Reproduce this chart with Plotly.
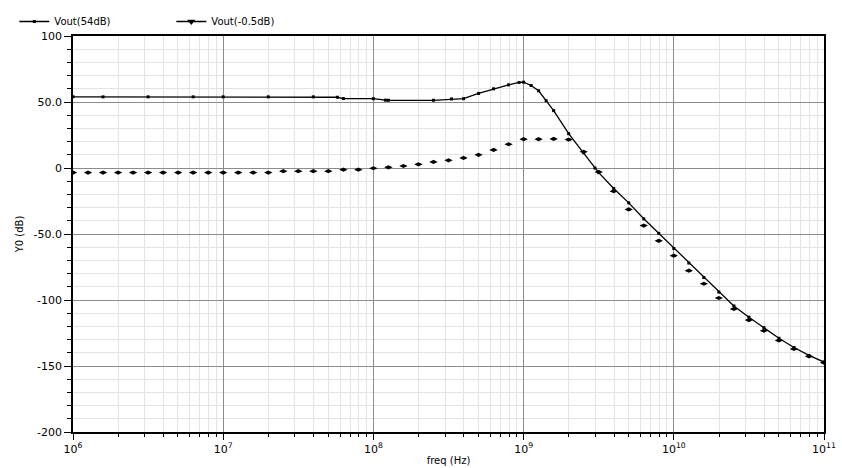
import plotly.graph_objects as go

# ---- data (log10 of frequency in Hz, value in dB) ----
s1_logf = [6.0, 6.2, 6.5, 6.8, 7.0, 7.3, 7.6, 7.76, 7.8, 8.0, 8.08, 8.1, 8.4, 8.52, 8.6,
           8.7, 8.8, 8.9, 8.97, 9.0, 9.05, 9.1, 9.15, 9.2, 9.3, 9.4, 9.475, 9.5, 9.6,
           9.7, 9.8, 9.9, 10.0, 10.1, 10.2, 10.3, 10.4, 10.5, 10.6, 10.7, 10.8, 10.9, 11.0]
s1_vals = [53.9, 53.9, 53.9, 53.9, 53.9, 53.9, 53.9, 53.6, 52.6, 52.5, 51.4, 51.3, 51.3, 52.3, 52.5,
           56.5, 60.0, 63.0, 64.8, 65.0, 62.5, 58.5, 51.0, 43.5, 26.0, 11.5, 0.0, -3.5, -15.5,
           -26.4, -38.5, -49.5, -61.0, -72.0, -83.0, -94.0, -104.5, -113.0, -121.0, -129.0, -136.0, -142.0, -147.0]

s2_logf = [6.0, 6.1, 6.2, 6.3, 6.4, 6.5, 6.6, 6.7, 6.8, 6.9, 7.0, 7.1, 7.2, 7.3, 7.4, 7.5, 7.6,
           7.7, 7.8, 7.9, 8.0, 8.1, 8.2, 8.3, 8.4, 8.5, 8.6, 8.7, 8.8, 8.9, 9.0, 9.1, 9.2, 9.3,
           9.4, 9.5, 9.6, 9.7, 9.8, 9.9, 10.0, 10.1, 10.2, 10.3, 10.4, 10.5, 10.6, 10.7, 10.8,
           10.9, 11.0]
s2_vals = [-3.5, -3.5, -3.5, -3.5, -3.5, -3.5, -3.5, -3.5, -3.5, -3.5, -3.5, -3.5, -3.5, -3.5,
           -2.4, -2.4, -2.4, -2.4, -1.3, -1.3, -0.2, 0.5, 1.5, 2.8, 4.6, 5.8, 7.6, 10.0, 13.7,
           18.0, 21.8, 21.8, 22.0, 21.5, 12.3, -3.0, -17.6, -31.4, -43.6, -55.2, -66.4, -77.8,
           -87.7, -98.5, -106.8, -115.2, -123.3, -130.6, -137.1, -142.7, -147.5]

s1_name = "Vout(54dB)"
s2_name = "Vout(-0.5dB)"

x_tickvals = [6, 7, 8, 9, 10, 11]
x_ticktext = ["10<sup>6</sup>", "10<sup>7</sup>", "10<sup>8</sup>", "10<sup>9</sup>",
              "10<sup>10</sup>", "10<sup>11</sup>"]
y_tickvals = [100, 50, 0, -50, -100, -150, -200]
y_ticktext = ["100", "50.0", "0", "-50.0", "-100", "-150", "-200"]

s1_x = [10 ** v for v in s1_logf]
s2_x = [10 ** v for v in s2_logf]

FONT = "DejaVu Sans"

fig = go.Figure()
fig.add_trace(go.Scatter(
    x=s1_x, y=s1_vals, name=s1_name, mode="lines+markers",
    line=dict(color="black", width=1.3),
    marker=dict(color="black", size=3, symbol="square"),
))
fig.add_trace(go.Scatter(
    x=s2_x, y=s2_vals, name=s2_name, mode="markers", showlegend=False,
    marker=dict(color="black", size=6, symbol="diamond-wide"),
))
# legend-only entry showing line + marker, as in the reference legend
fig.add_trace(go.Scatter(
    x=[None], y=[None], name=s2_name, mode="lines+markers",
    line=dict(color="black", width=1.3),
    marker=dict(color="black", size=7, symbol="triangle-down"),
))

minor_x = [10 ** d * k for d in range(6, 11) for k in range(2, 10)]

fig.update_layout(
    width=842, height=468,
    margin=dict(l=73, r=18, t=36, b=36, autoexpand=False),
    paper_bgcolor="white", plot_bgcolor="white",
    font=dict(family=FONT, size=10, color="black"),
    showlegend=True,
    legend=dict(orientation="h", xref="container", yref="container",
                x=0.017, y=0.985, xanchor="left", yanchor="top",
                font=dict(size=10, family=FONT), bgcolor="rgba(0,0,0,0)",
                itemwidth=30, entrywidth=112, tracegroupgap=0),
    xaxis=dict(
        type="log", range=[6, 11], automargin=False,
        tickmode="array", tickvals=[10 ** v for v in x_tickvals], ticktext=x_ticktext,
        ticks="outside", ticklen=6, tickcolor="black", tickwidth=1,
        showline=True, linecolor="black", linewidth=1.5, mirror=True,
        showgrid=True, gridcolor="#8c8c8c", gridwidth=1,
        zeroline=False,
        tickfont=dict(size=11, family=FONT),
        title=dict(text="freq (Hz)", font=dict(size=10, family=FONT), standoff=2),
        minor=dict(tickvals=minor_x, ticks="outside", ticklen=3, tickcolor="black",
                   showgrid=True, gridcolor="#e3e3e3", gridwidth=1),
    ),
    yaxis=dict(
        range=[-200, 100], automargin=False,
        tickmode="array", tickvals=y_tickvals, ticktext=y_ticktext,
        ticks="outside", ticklen=7, tickcolor="black", tickwidth=1,
        showline=True, linecolor="black", linewidth=1.5, mirror=True,
        showgrid=True, gridcolor="#8c8c8c", gridwidth=1,
        zeroline=False,
        tickfont=dict(size=11, family=FONT),
        title=dict(text="Y0 (dB)", font=dict(size=10, family=FONT), standoff=8),
        minor=dict(dtick=10, ticks="outside", ticklen=4, tickcolor="black",
                   showgrid=True, gridcolor="#e3e3e3", gridwidth=1),
    ),
)

fig.write_html(
    "out.html",
    config={"displayModeBar": False},
    post_script="document.body.style.margin='0';document.body.style.overflow='hidden';",
)
